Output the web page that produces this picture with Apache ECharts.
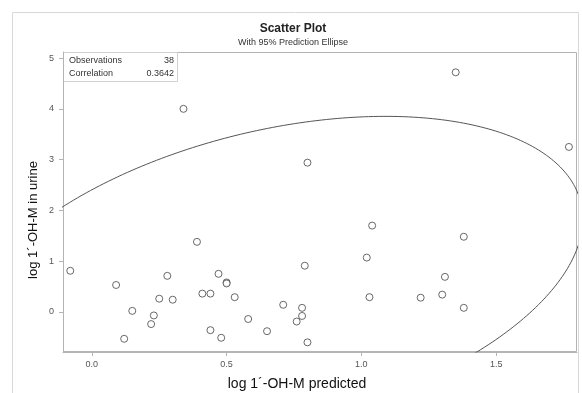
<!DOCTYPE html>
<html>
<head>
<meta charset="utf-8">
<script src="https://cdn.jsdelivr.net/npm/echarts@6/dist/echarts.min.js"></script>
<style>
  html, body { margin: 0; padding: 0; background: #fff; }
  #chart { width: 582px; height: 393px; }
</style>
</head>
<body>
<div id="chart"></div>
<script>
  // predicted (x) vs measured in urine (y), 38 observations
  var predicted = [-0.08, 0.09, 0.15, 0.12, 0.23, 0.22, 0.25, 0.28, 0.30, 0.39,
    0.41, 0.44, 0.44, 0.47, 0.48, 0.50, 0.50, 0.53, 0.58, 0.65,
    0.71, 0.76, 0.78, 0.78, 0.79, 0.80, 1.04, 1.38, 1.02, 1.31,
    1.03, 1.22, 1.30, 1.38, 1.35, 0.80, 1.77, 0.34];
  var urine = [0.81, 0.53, 0.02, -0.53, -0.07, -0.24, 0.26, 0.71, 0.24, 1.38,
    0.36, 0.36, -0.36, 0.75, -0.51, 0.58, 0.56, 0.29, -0.14, -0.38,
    0.14, -0.19, -0.08, 0.08, 0.91, -0.60, 1.70, 1.48, 1.07, 0.69,
    0.29, 0.28, 0.34, 0.08, 4.72, 2.94, 3.25, 4.00];
  var xTicks = [0, 0.5, 1, 1.5];
  var yTicks = [0, 1, 2, 3, 4, 5];
  var statLabels = ['Observations', 'Correlation'];
  var statValues = ['38', '0.3642'];
  var fCrit = 3.26; // F(2, 36) at 0.95

  var n = predicted.length;
  var mx = 0, my = 0;
  for (var i = 0; i < n; i++) { mx += predicted[i]; my += urine[i]; }
  mx /= n; my /= n;
  var sxx = 0, syy = 0, sxy = 0;
  for (var i = 0; i < n; i++) {
    var dx = predicted[i] - mx, dy = urine[i] - my;
    sxx += dx * dx; syy += dy * dy; sxy += dx * dy;
  }
  sxx /= (n - 1); syy /= (n - 1); sxy /= (n - 1);
  var corr = sxy / Math.sqrt(sxx * syy);

  // 95% prediction ellipse from the sample mean / covariance
  var c = 2 * (n + 1) * (n - 1) / (n * (n - 2)) * fCrit;
  var sx = Math.sqrt(sxx), sy = Math.sqrt(syy);
  var ellipse = [];
  for (var k = 0; k <= 360; k++) {
    var t = k * Math.PI / 180;
    var u = Math.sqrt(c) * Math.cos(t);
    var v = Math.sqrt(c) * Math.sin(t);
    var zy = corr * u + Math.sqrt(1 - corr * corr) * v;
    ellipse.push([mx + sx * u, my + sy * zy]);
  }

  var points = predicted.map(function (x, i) { return [x, urine[i]]; });

  var chart = echarts.init(document.getElementById('chart'));
  var axisGray = '#b4b4b4';
  chart.setOption({
    animation: false,
    title: {
      text: 'Scatter Plot',
      subtext: 'With 95% Prediction Ellipse',
      left: 288, top: 18, textAlign: 'center', itemGap: 3,
      textStyle: { fontFamily: 'Liberation Sans', fontSize: 12, fontWeight: 'bold', color: '#222' },
      subtextStyle: { fontFamily: 'Liberation Sans', fontSize: 9, color: '#333' }
    },
    grid: { left: 63, right: 5, top: 52, bottom: 41 },
    xAxis: {
      type: 'value', min: -0.107, max: 1.8,
      splitLine: { show: false },
      axisLine: { onZero: false, lineStyle: { color: axisGray } },
      axisTick: { customValues: xTicks, length: 4, lineStyle: { color: axisGray } },
      axisLabel: {
        customValues: xTicks, margin: 8, color: '#555', fontSize: 9, fontFamily: 'Liberation Sans',
        formatter: function (v) { return v.toFixed(1); }
      }
    },
    yAxis: {
      type: 'value', min: -0.79, max: 5.12,
      splitLine: { show: false },
      axisLine: { show: true, onZero: false, lineStyle: { color: axisGray } },
      axisTick: { show: true, customValues: yTicks, length: 4, lineStyle: { color: axisGray } },
      axisLabel: { customValues: yTicks, margin: 9, color: '#555', fontSize: 9, fontFamily: 'Liberation Sans' }
    },
    graphic: [
      { type: 'rect', shape: { x: 12.5, y: 12.5, width: 566, height: 390 }, style: { fill: 'none', stroke: '#d8d8d8', lineWidth: 1 }, silent: true },
      { type: 'rect', shape: { x: 63.5, y: 52.5, width: 513, height: 299 }, style: { fill: 'none', stroke: axisGray, lineWidth: 1 }, silent: true },
      { type: 'rect', shape: { x: 63.5, y: 52.5, width: 114, height: 29 }, style: { fill: 'none', stroke: '#d0d0d0', lineWidth: 1 }, silent: true },
      { type: 'text', left: 69, top: 56, style: { text: statLabels[0], font: '9px Liberation Sans', fill: '#333' } },
      { type: 'text', left: 69, top: 69, style: { text: statLabels[1], font: '9px Liberation Sans', fill: '#333' } },
      { type: 'text', right: 582 - 174, top: 56, style: { text: statValues[0], font: '9px Liberation Sans', fill: '#333', align: 'right' } },
      { type: 'text', right: 582 - 174, top: 69, style: { text: statValues[1], font: '9px Liberation Sans', fill: '#333', align: 'right' } },
      { type: 'text', x: 297, y: 384, style: { text: 'log 1\u00b4-OH-M predicted', font: '14px Liberation Sans', fill: '#111', align: 'center', verticalAlign: 'middle' } },
      { type: 'text', x: 33, y: 220, rotation: Math.PI / 2, style: { text: 'log 1\u00b4-OH-M in urine', font: '13px Liberation Sans', fill: '#111', align: 'center', verticalAlign: 'middle' } }
    ],
    series: [
      {
        type: 'scatter', data: points, symbol: 'circle', symbolSize: 7,
        itemStyle: { color: '#fff', borderColor: '#444', borderWidth: 1 }
      },
      {
        type: 'line', data: ellipse, showSymbol: false, clip: true, smooth: false,
        lineStyle: { color: '#555', width: 1 }
      }
    ]
  });
</script>
</body>
</html>
